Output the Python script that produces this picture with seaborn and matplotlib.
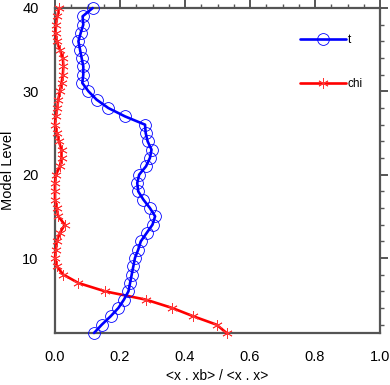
import matplotlib
matplotlib.use("Agg")
import matplotlib.pyplot as plt
import seaborn as sns
import pandas as pd
from matplotlib.ticker import MultipleLocator

levels = list(range(1, 41))
t_vals = [0.120, 0.144, 0.171, 0.195, 0.212, 0.226, 0.231, 0.236, 0.241, 0.246,
          0.256, 0.264, 0.282, 0.300, 0.308, 0.292, 0.272, 0.256, 0.253, 0.259,
          0.280, 0.292, 0.297, 0.285, 0.279, 0.277, 0.215, 0.164, 0.128, 0.103,
          0.084, 0.087, 0.087, 0.082, 0.077, 0.072, 0.079, 0.087, 0.085, 0.116]
chi_vals = [0.528, 0.497, 0.426, 0.361, 0.280, 0.154, 0.072, 0.026, 0.005, 0.000,
            0.003, 0.005, 0.015, 0.030, 0.010, 0.005, 0.000, 0.000, 0.000, 0.003,
            0.015, 0.020, 0.020, 0.012, 0.005, 0.000, 0.003, 0.007, 0.010, 0.015,
            0.020, 0.024, 0.026, 0.024, 0.015, 0.005, 0.002, 0.003, 0.007, 0.013]

sns.set_style("white")
plt.rcParams['font.family'] = ['Liberation Sans', 'DejaVu Sans']

df_t = pd.DataFrame({"level": levels, "val": t_vals})
df_chi = pd.DataFrame({"level": levels, "val": chi_vals})

fig = plt.figure(figsize=(3.9, 3.85), dpi=100)
ax = fig.add_axes([55 / 390, 1 - 333 / 385, 325 / 390, 325 / 385])

sns.lineplot(data=df_t, x="val", y="level", sort=False, estimator=None, ax=ax,
             color="blue", lw=1.9, marker="o", markersize=8.5, markerfacecolor="none",
             markeredgecolor="blue", markeredgewidth=0.6, label="t", zorder=4,
             clip_on=False)
sns.lineplot(data=df_chi, x="val", y="level", sort=False, estimator=None, ax=ax,
             color="red", lw=1.9, marker=(6, 2, 0), markersize=7.5, markeredgecolor="#ff3333",
             markeredgewidth=0.6, label="chi", zorder=3, clip_on=False)

ax.set_xlim(0, 1.0)
ax.set_ylim(1, 40)
ax.xaxis.set_major_locator(MultipleLocator(0.2))
ax.xaxis.set_minor_locator(MultipleLocator(0.05))
ax.yaxis.set_major_locator(MultipleLocator(10))
ax.yaxis.set_minor_locator(MultipleLocator(2))
ax.set_xticklabels([f"{v:.1f}" for v in ax.get_xticks()])

ax.tick_params(which="both", direction="out", top=True, right=True, color="#555555",
               labelsize=10.5, labelcolor="black")
ax.tick_params(axis="x", which="major", pad=6.5)
ax.tick_params(axis="y", which="major", pad=6)
ax.tick_params(which="major", length=5.8, width=1.4)
ax.tick_params(which="minor", length=2.6, width=1)
for s in ax.spines.values():
    s.set_color("#555555")
    s.set_linewidth(1.6)

ax.set_xlabel("<x . xb> / <x . x>", fontsize=10, color="black", labelpad=3.5)
ax.set_ylabel("Model Level", fontsize=10.5, color="black", labelpad=5)

leg = ax.legend(loc="upper left", bbox_to_anchor=(0.755, 0.92), frameon=False,
                fontsize=8.5, handlelength=3.9, handletextpad=0.1, labelspacing=2.75,
                borderpad=0, borderaxespad=0)
for txt in leg.get_texts():
    txt.set_color("black")

fig.savefig("out.png", dpi=100)
